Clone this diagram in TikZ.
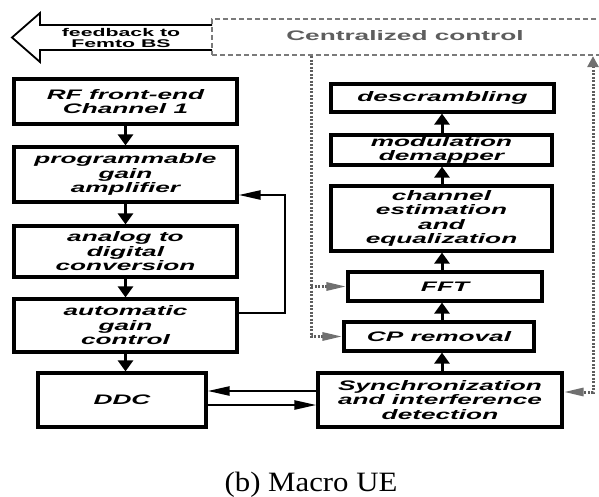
\documentclass[tikz,border=0pt]{standalone}
\usepackage{fontspec}
\newfontfamily\boxfont[FakeStretch=1.9]{Liberation Sans}
\newfontfamily\capfont[FakeStretch=1.1]{Liberation Serif}
\usetikzlibrary{arrows.meta}
\definecolor{ctrlgray}{HTML}{5E5E5E}
\definecolor{tipgray}{HTML}{707070}
\definecolor{boxgray}{HTML}{7A7A7A}
\begin{document}
\begin{tikzpicture}[x=1pt,y=-1pt,
  blk/.style={draw=black, line width=3.2pt, fill=white, inner sep=0pt, align=center,
    font=\boxfont\bfseries\itshape\fontsize{13.8}{14.5}\selectfont},
  varr/.style={line width=3pt, -{Triangle[width=15pt,length=11pt]}},
  harr/.style={line width=2.4pt, -{Triangle[width=9pt,length=22pt]}},
  ctl/.style={draw=ctrlgray, line width=3pt, dash pattern=on 2pt off 1.5pt},
  ctlh/.style={ctl, -{Triangle[width=8pt,length=20pt,color=tipgray]}},
  ctrlbox/.style={draw=boxgray, line width=2.2pt, dash pattern=on 5pt off 3pt,
    minimum width=398pt, minimum height=36pt, inner sep=0pt},
  ctrltext/.style={text=ctrlgray, font=\boxfont\bfseries\fontsize{13.8}{14}\selectfont},
  fbtext/.style={align=center, font=\boxfont\bfseries\fontsize{11.2}{11.5}\selectfont},
]
\useasboundingbox (0,0) rectangle (599,497);

% feedback block arrow
\draw[line width=1.8pt, fill=white] (212,25) -- (40,25) -- (40,13) -- (12,37.5)
  -- (40,62) -- (40,50) -- (212,50);
\node[fbtext] (fb) at (121,38) {feedback to\\Femto BS};

% centralized control box
\node[ctrlbox] (ctrl) at (411,37) {};
\node[ctrltext] (ctrltxt) at (405,36) {Centralized control};

% receiver front end (left column)
\node[blk, minimum width=223pt, minimum height=45pt] (rf)  at (125.5,101.5) {RF front-end\\Channel 1};
\node[blk, minimum width=223pt, minimum height=55pt] (pga) at (125.5,174.5) {programmable\\gain\\amplifier};
\node[blk, minimum width=223pt, minimum height=51pt] (adc) at (125.5,251.5) {analog to\\digital\\conversion};
\node[blk, minimum width=223pt, minimum height=53pt] (agc) at (125.5,325.5) {automatic\\gain\\control};
\node[blk, minimum width=168pt, minimum height=54pt] (ddc) at (122,400) {DDC};

% baseband chain (right column)
\node[blk, minimum width=223pt, minimum height=28pt] (desc) at (442.5,98)  {descrambling};
\node[blk, minimum width=221pt, minimum height=30pt] (dem)  at (441.5,150) {modulation\\demapper};
\node[blk, minimum width=221pt, minimum height=65pt] (che)  at (441.5,218.5) {channel\\estimation\\and\\equalization};
\node[blk, minimum width=194pt, minimum height=29pt] (fft)  at (445,286.5) {FFT};
\node[blk, minimum width=190pt, minimum height=29pt] (cp)   at (439,336.5) {CP removal};
\node[blk, minimum width=244pt, minimum height=54pt] (sync) at (440,400) {Synchronization\\and interference\\detection};

% left column flow
\draw[varr] (rf.south)  -- (pga.north);
\draw[varr] (pga.south) -- (adc.north);
\draw[varr] (adc.south) -- (agc.north);
\draw[varr] (agc.south) -- (agc.south |- ddc.north);

% gain control loop
\draw[harr] (agc.east |- 0,313) -- (285,313) -- (285,195) -- (pga.east |- 0,195);

% DDC <-> synchronization
\draw[harr] (sync.west |- 0,391) -- (ddc.east |- 0,391);
\draw[harr] (ddc.east |- 0,405) -- (sync.west |- 0,405);

% right column flow
\coordinate (xc) at (442,0);
\draw[varr] (sync.north -| xc) -- (cp.south -| xc);
\draw[varr] (cp.north -| xc)   -- (fft.south -| xc);
\draw[varr] (fft.north -| xc)  -- (che.south -| xc);
\draw[varr] (che.north -| xc)  -- (dem.south -| xc);
\draw[varr] (dem.north -| xc)  -- (desc.south -| xc);

% control signalling
\coordinate (dl) at (311,0);
\coordinate (dr) at (593,0);
\draw[ctlh] (ctrl.south -| dl) |- (cp.west);
\draw[ctlh] (fft.west -| dl) -- (fft.west);
\draw[ctl, {Triangle[width=11pt,length=11pt,color=tipgray]}-{Triangle[width=8pt,length=20pt,color=tipgray]}]
  (ctrl.south -| dr) |- (sync.east |- 0,392);

% caption
\node[font=\capfont\fontsize{28}{30}\selectfont] (cap) at (311,485) {(b) Macro UE};
\end{tikzpicture}
\end{document}
